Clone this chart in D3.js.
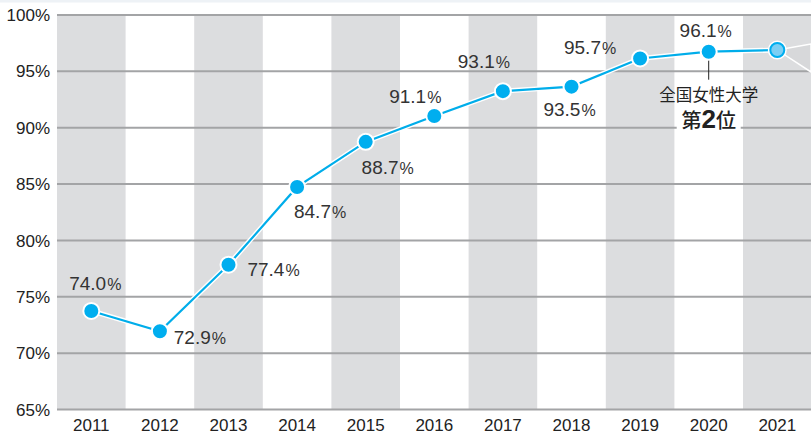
<!DOCTYPE html>
<html>
<head>
<meta charset="utf-8">
<script src="https://cdn.jsdelivr.net/npm/d3@7"></script>
<style>
  body { margin: 0; background: #fff; }
  svg { display: block; font-family: "Liberation Sans", Arial, sans-serif; }
</style>
</head>
<body>
<div id="chart-area"></div>
<script>
// data
const years = ['2011', '2012', '2013', '2014', '2015', '2016', '2017', '2018', '2019', '2020', '2021'];
const rates = [73.7, 71.9, 77.8, 84.7, 88.7, 91.0, 93.2, 93.6, 96.1, 96.7, 96.85]; // plotted positions
const rateLabels = ['74.0', '72.9', '77.4', '84.7', '88.7', '91.1', '93.1', '93.5', '95.7', '96.1', null];
const yTicks = [65, 70, 75, 80, 85, 90, 95, 100];

// label offsets relative to each point [dx, dy(baseline)]
const labelPos = [[4, -21], [40, 13], [45, 11], [23, 31], [22, 32], [-19, -13], [-19, -23], [-2, 29], [-50, -4], [-3, -15]];

const W = 811, H = 435;
const margin = {left: 57, right: 0, top: 14.5, bottom: 26};
const width = W - margin.left - margin.right;
const height = H - margin.top - margin.bottom;

const svg = d3.select('#chart-area')
    .append('svg')
    .attr('width', W)
    .attr('height', H);

svg.append('line')
    .attr('x1', 0).attr('x2', W)
    .attr('y1', 1).attr('y2', 1)
    .attr('stroke', '#eef2f6')
    .attr('stroke-width', 3);

const g = svg.append('g')
    .attr('transform', `translate(${margin.left}, ${margin.top})`);

const x = d3.scaleBand()
    .domain(years)
    .range([0, width + 0.6])
    .padding(0);

const y = d3.scaleLinear()
    .domain([65, 100])
    .range([height, 0]);

// alternating bands
g.selectAll('rect.band')
    .data(years.filter((d, i) => i % 2 === 0))
    .enter()
    .append('rect')
        .attr('class', 'band')
        .attr('x', d => x(d))
        .attr('y', 0)
        .attr('width', x.bandwidth())
        .attr('height', height)
        .attr('fill', '#dcdddf');

// grid lines + y labels
const yAxisCall = d3.axisLeft(y)
    .tickValues(yTicks)
    .tickSize(-width)
    .tickFormat(d => `${d}%`);
const yAxis = g.append('g')
    .attr('class', 'y axis')
    .call(yAxisCall);
yAxis.select('.domain').remove();
yAxis.selectAll('line')
    .attr('stroke', '#a3a4a6')
    .attr('stroke-width', 2);
yAxis.selectAll('text')
    .attr('x', -7)
    .attr('dy', '0.36em')
    .attr('fill', '#222')
    .attr('font-size', '17px');

// x labels
const xAxisCall = d3.axisBottom(x).tickSize(0);
const xAxis = g.append('g')
    .attr('class', 'x axis')
    .attr('transform', `translate(0, ${height})`)
    .call(xAxisCall);
xAxis.select('.domain').remove();
xAxis.selectAll('text')
    .attr('y', 10)
    .attr('dy', '0.71em')
    .attr('fill', '#222')
    .attr('font-size', '17px');

const cx = d => x(d) + x.bandwidth() / 2;
const pts = years.map((d, i) => [cx(d), y(rates[i])]);

// callout wedge from the 2021 point
const last = pts[pts.length - 1];
g.append('path')
    .attr('d', `M${last[0]},${last[1]}L${width},${last[1] - 6}L${width},${last[1] + 22}Z`)
    .attr('fill', '#d7d8da')
    .attr('stroke', '#fff')
    .attr('stroke-width', 1.5);

// tick from 2020 point to note
const p20 = pts[9];
g.append('line')
    .attr('x1', p20[0]).attr('x2', p20[0])
    .attr('y1', p20[1]).attr('y2', p20[1] + 28)
    .attr('stroke', '#222')
    .attr('stroke-width', 1);

// note text
g.append('rect')
    .attr('x', p20[0] - 32)
    .attr('y', y(90) - 14)
    .attr('width', 64)
    .attr('height', 26)
    .attr('fill', '#fff');
g.append('text')
    .attr('x', p20[0])
    .attr('y', p20[1] + 49)
    .attr('text-anchor', 'middle')
    .attr('font-family', '"Noto Sans CJK JP", sans-serif')
    .attr('font-size', '16.5px')
    .attr('fill', '#222')
    .text('全国女性大学');
const note2 = g.append('text')
    .attr('x', p20[0])
    .attr('y', p20[1] + 76)
    .attr('text-anchor', 'middle')
    .attr('font-family', '"Noto Sans CJK JP", sans-serif')
    .attr('font-weight', 500)
    .attr('font-size', '20px')
    .attr('fill', '#222');
note2.append('tspan').text('第');
note2.append('tspan').attr('font-family', '"Liberation Sans", Arial, sans-serif').attr('font-weight', 'bold').attr('font-size', '26px').text('2');
note2.append('tspan').text('位');

// line
const line = d3.line();
g.append('path')
    .attr('d', line(pts))
    .attr('fill', 'none')
    .attr('stroke', '#fff')
    .attr('stroke-width', 5);
g.append('path')
    .attr('d', line(pts))
    .attr('fill', 'none')
    .attr('stroke', '#00adea')
    .attr('stroke-width', 2.2);

// points
g.selectAll('circle.pt')
    .data(pts)
    .enter()
    .append('circle')
        .attr('class', 'pt')
        .attr('cx', d => d[0])
        .attr('cy', d => d[1])
        .attr('r', (d, i) => i === pts.length - 1 ? 8.5 : 8)
        .attr('fill', (d, i) => i === pts.length - 1 ? '#7ccff4' : '#00aeef')
        .attr('stroke', '#fff')
        .attr('stroke-width', 2);
g.append('circle')
    .attr('cx', last[0])
    .attr('cy', last[1])
    .attr('r', 7)
    .attr('fill', 'none')
    .attr('stroke', '#00aeef')
    .attr('stroke-width', 2);

// value labels
rateLabels.forEach((lab, i) => {
    if (!lab) return;
    const t = g.append('text')
        .attr('x', pts[i][0] + labelPos[i][0])
        .attr('y', pts[i][1] + labelPos[i][1])
        .attr('text-anchor', 'middle')
        .attr('fill', '#333');
    t.append('tspan').attr('font-size', '19px').text(lab);
    t.append('tspan').attr('font-size', '16px').attr('dx', 1).text('%');
});
</script>
</body>
</html>
